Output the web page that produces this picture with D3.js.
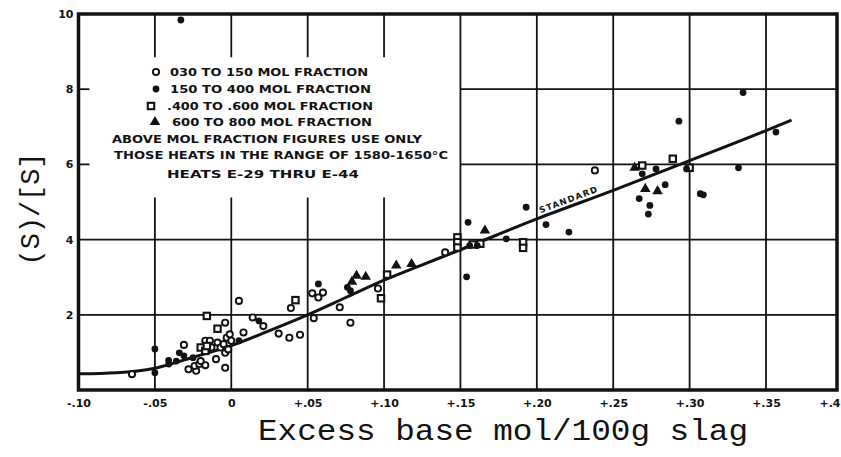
<!DOCTYPE html>
<html>
<head>
<meta charset="utf-8">
<script src="https://cdn.jsdelivr.net/npm/d3@7"></script>
<style>
  body { margin: 0; background: #fff; }
  svg { display: block; }
</style>
</head>
<body>
<svg id="chart" width="841" height="457"></svg>
<script>
// Axis ticks and labels
const xTicks = [-0.10, -0.05, 0, 0.05, 0.10, 0.15, 0.20, 0.25, 0.30, 0.35, 0.40];
const xTickLabels = ["-.10", "-.05", "0", "+.05", "+.10", "+.15", "+.20", "+.25", "+.30", "+.35", "+.4"];
const yTicks = [2, 4, 6, 8, 10];
const yTickLabels = ["2", "4", "6", "8", "10"];

// Standard (S)/[S] curve against excess base
const standardCurve = [
  [-0.100, 0.43], [-0.075, 0.46], [-0.050, 0.58], [-0.025, 0.87], [0.000, 1.18],
  [0.025, 1.58], [0.050, 2.00], [0.075, 2.46], [0.100, 2.92], [0.125, 3.33],
  [0.150, 3.73], [0.200, 4.55], [0.250, 5.31], [0.300, 6.10], [0.350, 6.90], [0.368, 7.18]
];

// .030 to .150 mol fraction (open circles)
const fraction030to150 = [
  [-0.065, 0.42], [-0.031, 1.20], [-0.028, 0.55], [-0.023, 0.51], [-0.024, 0.64],
  [-0.021, 0.69], [-0.017, 0.66], [-0.020, 0.77], [-0.017, 1.31], [-0.014, 1.31],
  [-0.013, 1.13], [-0.010, 0.82], [-0.009, 1.26], [-0.007, 1.13], [-0.004, 1.79],
  [-0.003, 1.39], [-0.005, 1.22], [-0.004, 0.99], [-0.002, 1.08], [-0.004, 0.59],
  [-0.001, 1.48], [0.000, 1.31], [0.005, 2.37], [0.008, 1.53], [0.014, 1.93],
  [0.021, 1.70], [0.031, 1.50], [0.038, 1.39], [0.045, 1.47], [0.039, 2.18],
  [0.054, 1.91], [0.053, 2.57], [0.057, 2.46], [0.060, 2.59], [0.071, 2.20],
  [0.078, 1.79], [0.096, 2.70], [0.140, 3.66], [0.238, 5.84]
];

// .150 to .400 mol fraction (filled circles)
const fraction150to400 = [
  [-0.050, 0.46], [-0.050, 1.09], [-0.041, 0.79], [-0.041, 0.69], [-0.036, 0.77],
  [-0.034, 0.99], [-0.031, 0.91], [-0.025, 0.86], [0.005, 1.31], [0.018, 1.84],
  [0.057, 2.82], [0.076, 2.73], [0.078, 2.64], [0.155, 4.46], [0.154, 3.01],
  [0.156, 3.84], [0.161, 3.84], [0.180, 4.02], [0.193, 4.86], [0.206, 4.40],
  [0.221, 4.20], [0.269, 5.75], [0.278, 5.88], [0.284, 5.46], [0.267, 5.09],
  [0.274, 4.91], [0.273, 4.68], [0.293, 7.15], [0.298, 5.88], [0.307, 5.22],
  [0.309, 5.19], [0.332, 5.91], [0.335, 7.91], [0.357, 6.86], [-0.033, 9.84]
];

// .400 to .600 mol fraction (open squares)
const fraction400to600 = [
  [-0.020, 1.13], [-0.017, 1.04], [-0.016, 1.17], [-0.016, 1.97], [-0.009, 1.63],
  [0.042, 2.39], [0.098, 2.44], [0.102, 3.07], [0.148, 4.06], [0.148, 3.93],
  [0.148, 3.79], [0.158, 3.87], [0.163, 3.89], [0.191, 3.93], [0.191, 3.78],
  [0.269, 5.97], [0.289, 6.15], [0.300, 5.91]
];

// .600 to .800 mol fraction (filled triangles)
const fraction600to800 = [
  [0.079, 2.88], [0.082, 3.04], [0.088, 3.01], [0.108, 3.31], [0.118, 3.35],
  [0.166, 4.24], [0.264, 5.91], [0.271, 5.35], [0.279, 5.29]
];

const legendLabels = [
  "030 TO 150 MOL FRACTION",
  "150 TO 400 MOL FRACTION",
  ".400 TO .600 MOL FRACTION",
  "600 TO 800 MOL FRACTION"
];
const noteLines = [
  "ABOVE MOL FRACTION FIGURES USE ONLY",
  "THOSE HEATS IN THE RANGE OF 1580-1650°C",
  "HEATS E-29 THRU E-44"
];

const ink = "#121212";
const svg = d3.select("#chart");

// Scales (the right edge of the sheet is slightly compressed)
const x = d3.scaleLinear().domain([-0.10, 0.35, 0.40]).range([78.5, 766, 837]);
const y = d3.scaleLinear().domain([0, 10]).range([390, 14]);

const grid = svg.append("g")
  .attr("stroke", ink)
  .attr("stroke-width", 1.8)
  .attr("fill", "none");

// Vertical rules; those under the legend block are interrupted
const legendGap = [8.85, 5.12];
xTicks.filter(v => v > -0.1 && v < 0.4).forEach(v => {
  if (v < 0.149) {
    grid.append("line").attr("x1", x(v)).attr("x2", x(v)).attr("y1", y(10)).attr("y2", y(legendGap[0]));
    grid.append("line").attr("x1", x(v)).attr("x2", x(v)).attr("y1", y(legendGap[1])).attr("y2", y(0));
  } else {
    grid.append("line").attr("x1", x(v)).attr("x2", x(v)).attr("y1", y(10)).attr("y2", y(0));
  }
});

// Horizontal rules; upper ones start to the right of the legend
yTicks.filter(v => v < 10).forEach(v => {
  const start = v > 5 ? 0.15 : -0.10;
  grid.append("line").attr("x1", x(start)).attr("x2", x(0.40)).attr("y1", y(v)).attr("y2", y(v));
  if (v > 5) {
    grid.append("line").attr("x1", x(-0.10)).attr("x2", x(-0.10) + 11).attr("y1", y(v)).attr("y2", y(v));
  }
});

// Frame
svg.append("rect")
  .attr("x", x(-0.10)).attr("y", y(10))
  .attr("width", x(0.40) - x(-0.10)).attr("height", y(0) - y(10))
  .attr("fill", "none").attr("stroke", ink).attr("stroke-width", 3.5);

// Axes (labels only; the frame and rules carry the lines)
const tickFont = "'DejaVu Sans', sans-serif";
const xAxis = d3.axisBottom(x)
  .tickValues(xTicks)
  .tickFormat((d, i) => xTickLabels[i])
  .tickSize(0).tickPadding(9);
const gx = svg.append("g").attr("transform", `translate(0,${y(0)})`).call(xAxis);
gx.select(".domain").remove();
gx.selectAll("text")
  .attr("font-family", tickFont)
  .attr("font-weight", "bold").attr("font-size", 11).attr("fill", ink);
// last label sits against the sheet edge
gx.selectAll(".tick").filter(d => d === 0.40).select("text")
  .attr("text-anchor", "end").attr("dx", 3);

const yAxis = d3.axisLeft(y)
  .tickValues(yTicks)
  .tickFormat((d, i) => yTickLabels[i])
  .tickSize(0).tickPadding(5);
const gy = svg.append("g").attr("transform", `translate(${x(-0.10)},0)`).call(yAxis);
gy.select(".domain").remove();
gy.selectAll("text")
  .attr("font-family", tickFont)
  .attr("font-weight", "bold").attr("font-size", 11).attr("fill", ink);

// Standard curve
const curveLine = d3.line()
  .x(d => x(d[0])).y(d => y(d[1]))
  .curve(d3.curveMonotoneX);
svg.append("path")
  .datum(standardCurve)
  .attr("d", curveLine)
  .attr("fill", "none").attr("stroke", ink).attr("stroke-width", 3);

// "STANDARD" lettered along the curve
{
  const i = 11; // segment 0.20 .. 0.25
  const a = standardCurve[i], b = standardCurve[i + 1];
  const t = 0.45;
  const px = x(a[0] + (b[0] - a[0]) * t);
  const py = y(a[1] + (b[1] - a[1]) * t);
  const ang = Math.atan2(y(b[1]) - y(a[1]), x(b[0]) - x(a[0])) * 180 / Math.PI;
  svg.append("text")
    .attr("transform", `translate(${px},${py}) rotate(${ang}) translate(0,-4)`)
    .attr("text-anchor", "middle")
    .attr("font-family", "'DejaVu Sans', sans-serif")
    .attr("font-weight", "bold").attr("font-size", 8.5)
    .attr("letter-spacing", 1.3)
    .attr("fill", ink)
    .text("STANDARD");
}

// Marker drawing
function drawMarkers(g, kind, cx, cy) {
  if (kind === "openCircle") {
    g.append("circle").attr("cx", cx).attr("cy", cy).attr("r", 3.1)
      .attr("fill", "#fff").attr("stroke", ink).attr("stroke-width", 1.9);
  } else if (kind === "filledCircle") {
    g.append("circle").attr("cx", cx).attr("cy", cy).attr("r", 3.4).attr("fill", ink);
  } else if (kind === "openSquare") {
    g.append("rect").attr("x", cx - 3.2).attr("y", cy - 3.2).attr("width", 6.4).attr("height", 6.4)
      .attr("fill", "#fff").attr("stroke", ink).attr("stroke-width", 2.1);
  } else {
    g.append("path").attr("transform", `translate(${cx},${cy})`)
      .attr("d", d3.symbol(d3.symbolTriangle, 48)()).attr("fill", ink);
  }
}

const series = [
  { kind: "openCircle", data: fraction030to150 },
  { kind: "openSquare", data: fraction400to600 },
  { kind: "filledCircle", data: fraction150to400 },
  { kind: "triangle", data: fraction600to800 }
];
const marks = svg.append("g");
series.forEach(s => s.data.forEach(d => drawMarkers(marks, s.kind, x(d[0]), y(d[1]))));

// Legend block
const legend = svg.append("g")
  .attr("font-family", "'DejaVu Sans', sans-serif")
  .attr("font-weight", "bold")
  .attr("font-size", 11)
  .attr("fill", ink);
const legendKinds = ["openCircle", "filledCircle", "openSquare", "triangle"];
const legendRows = [
  { mx: 156, my: 72, tx: 170, ty: 76, w: 198 },
  { mx: 156, my: 89, tx: 170, ty: 93, w: 201 },
  { mx: 151, my: 106, tx: 167, ty: 110, w: 206 },
  { mx: 155, my: 122, tx: 172, ty: 126, w: 200 }
];
legendRows.forEach((r, i) => {
  drawMarkers(legend, legendKinds[i], r.mx, r.my);
  legend.append("text").attr("x", r.tx).attr("y", r.ty)
    .attr("textLength", r.w).attr("lengthAdjust", "spacingAndGlyphs")
    .text(legendLabels[i]);
});
const noteRows = [
  { tx: 112, ty: 143, w: 310 },
  { tx: 114, ty: 159, w: 334 },
  { tx: 167, ty: 178, w: 192 }
];
noteRows.forEach((r, i) => {
  legend.append("text").attr("x", r.tx).attr("y", r.ty)
    .attr("textLength", r.w).attr("lengthAdjust", "spacingAndGlyphs")
    .text(noteLines[i]);
});

// Axis titles
svg.append("text")
  .attr("x", 503).attr("y", 440)
  .attr("text-anchor", "middle")
  .attr("font-family", "'Liberation Mono', 'Courier New', monospace")
  .attr("font-size", 30)
  .attr("textLength", 490).attr("lengthAdjust", "spacingAndGlyphs")
  .attr("fill", ink)
  .text("Excess base mol/100g slag");

svg.append("text")
  .attr("transform", "translate(39,209) rotate(-90)")
  .attr("text-anchor", "middle")
  .attr("font-family", "'Liberation Mono', 'Courier New', monospace")
  .attr("font-size", 27)
  .attr("textLength", 113).attr("lengthAdjust", "spacingAndGlyphs")
  .attr("fill", ink)
  .text("(S)/[S]");
</script>
</body>
</html>
